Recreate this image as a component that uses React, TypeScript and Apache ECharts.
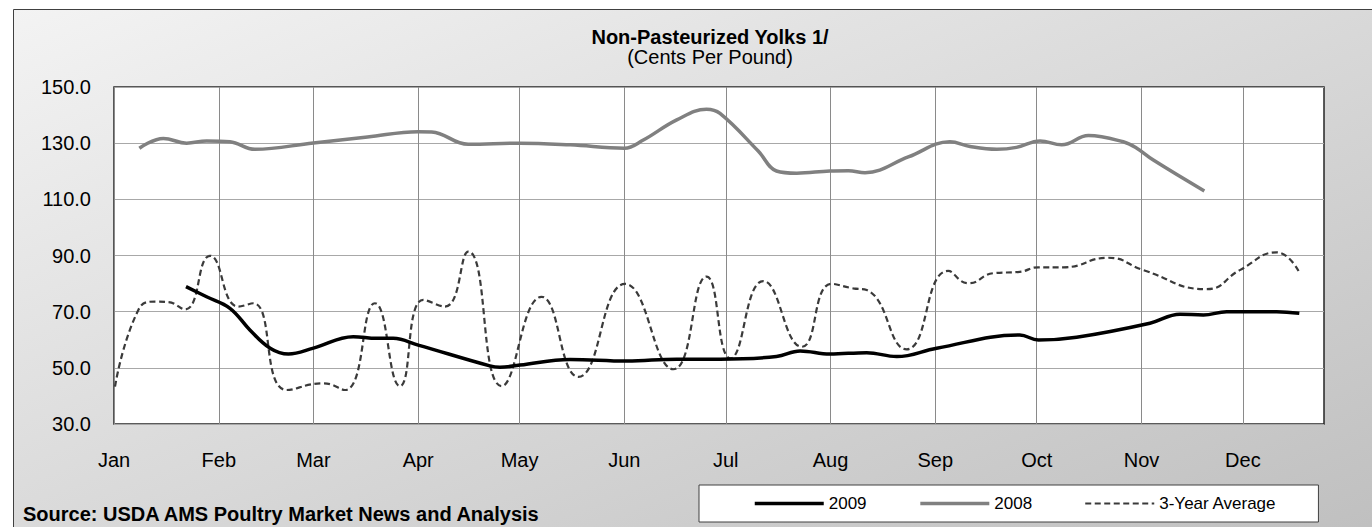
import React, { useEffect, useRef } from "react";
import * as echarts from "echarts";

// ---- data ----
const MONTH_LABELS = ["Jan", "Feb", "Mar", "Apr", "May", "Jun", "Jul", "Aug", "Sep", "Oct", "Nov", "Dec"];
const MONTH_START_DAYS = [0, 31, 59, 90, 120, 151, 181, 212, 243, 273, 304, 334];
const X_MAX_DAY = 358;
const Y_MIN = 30;
const Y_MAX = 150;
const Y_STEP = 20;

const SERIES_NAMES = ["2009", "2008", "3-Year Average"];

const DAYS_2009 = [21.3, 27.4, 34.3, 40.2, 46.2, 51.6, 59, 70.8, 77.7, 82.6, 90, 111.2, 114.2, 120.1, 134.9, 151.7, 166.5, 179.3, 196, 203, 211.8, 222.7, 231.6, 243.4, 268, 273.5, 284.8, 306.5, 315.4, 322.3, 329.2, 344, 350.7];
const PRICES_2009 = [78.9, 75.3, 71.2, 63.5, 57.0, 54.9, 57.0, 61.1, 60.5, 60.5, 58.1, 50.7, 50.2, 51.0, 53.0, 52.4, 53.1, 53.1, 54.0, 56.0, 54.9, 55.4, 54.0, 57.0, 61.7, 59.9, 60.9, 65.9, 69.1, 68.8, 70.0, 70.0, 69.4];

const DAYS_2008 = [7.5, 14.6, 21.5, 27.4, 34.3, 41.7, 59, 75, 90, 94, 104.8, 120, 135, 151, 156.6, 166.5, 175.3, 179.3, 190.6, 196, 202, 211.8, 217.3, 222.2, 235, 247.3, 253.3, 261.2, 267, 274, 280.4, 288.3, 298.6, 302.6, 307.5, 322.6];
const PRICES_2008 = [128.2, 131.7, 130.0, 130.8, 130.5, 127.8, 130.1, 132.2, 134.1, 134.0, 129.6, 130.0, 129.4, 128.2, 131.1, 138.3, 142.1, 140.6, 127.2, 120.1, 119.3, 120.1, 120.2, 119.5, 125.1, 130.5, 128.8, 127.8, 128.5, 130.8, 129.4, 132.7, 130.5, 128.2, 124.0, 113.0];

const DAYS_AVG = [0.3, 7.2, 12.6, 16.1, 21, 28.4, 36.8, 41.2, 51.1, 61.9, 68.3, 77.2, 84.6, 91.5, 97.9, 104.8, 114.7, 126.5, 137.4, 151.2, 165.5, 175.3, 182.4, 192.1, 203.5, 212.3, 218.7, 222.7, 234.5, 246.8, 252.8, 260.2, 268, 273.5, 280.9, 294.2, 304.5, 323.3, 333.1, 344, 350.7];
const PRICES_AVG = [43.3, 70.6, 73.6, 73.4, 70.8, 89.9, 71.8, 73.0, 42.1, 44.5, 42.1, 73.0, 43.5, 74.2, 71.8, 91.4, 43.5, 75.3, 46.8, 79.9, 49.5, 82.5, 53.4, 80.9, 57.5, 79.9, 78.3, 77.7, 56.6, 84.5, 80.1, 83.7, 84.2, 85.8, 85.8, 89.2, 84.8, 78.0, 84.8, 91.1, 84.0];

const TITLE = "Non-Pasteurized Yolks 1/";
const SUBTITLE = "(Cents Per Pound)";
const SOURCE = "Source: USDA AMS Poultry Market News and Analysis";

const FONT = "'Liberation Sans', Arial, Helvetica, sans-serif";

const zip = (xs: number[], ys: number[]) => xs.map((x, i) => [x, ys[i]]);

export default function App() {
  const ref = useRef<HTMLDivElement>(null);

  useEffect(() => {
    if (!ref.current) return;
    const chart = echarts.init(ref.current, null, { renderer: "svg" });

    const option: any = {
      animation: false,
      textStyle: { fontFamily: FONT },
      graphic: [
        {
          type: "rect",
          z: -100,
          silent: true,
          shape: { x: 13.5, y: 9.5, width: 1400, height: 560 },
          style: {
            fill: new echarts.graphic.LinearGradient(0, 0, 1, 1, [
              { offset: 0, color: "#f3f3f3" },
              { offset: 1, color: "#bdbdbd" },
            ]),
            stroke: "#404040",
            lineWidth: 1,
          },
        },
        {
          type: "text",
          left: 23,
          top: 504,
          silent: true,
          style: {
            text: SOURCE,
            font: `bold 20px ${FONT}`,
            fill: "#000",
          },
        },
      ],
      title: {
        text: TITLE,
        subtext: SUBTITLE,
        left: 710,
        top: 27,
        textAlign: "center",
        padding: 0,
        itemGap: 0,
        textStyle: { fontFamily: FONT, fontSize: 20, fontWeight: "bold", color: "#000" },
        subtextStyle: { fontFamily: FONT, fontSize: 20, color: "#000" },
      },
      legend: {
        data: SERIES_NAMES,
        left: 699,
        top: 485,
        padding: [10, 42, 10, 54],
        itemGap: 52,
        itemWidth: 69,
        itemHeight: 14,
        backgroundColor: "#ffffff",
        borderColor: "#404040",
        borderWidth: 1,
        borderRadius: 0,
        itemStyle: { opacity: 0, borderWidth: 0 },
        lineStyle: { width: "inherit" },
        textStyle: { fontFamily: FONT, fontSize: 17, color: "#000" },
      },
      grid: {
        left: 114,
        top: 87,
        right: 48,
        bottom: 103,
        show: true,
        backgroundColor: "#ffffff",
        borderColor: "#262626",
        borderWidth: 1.5,
        containLabel: false,
      },
      xAxis: {
        type: "value",
        min: 0,
        max: X_MAX_DAY,
        axisLine: { show: false },
        axisTick: { show: false, customValues: MONTH_START_DAYS },
        splitLine: { show: true, lineStyle: { color: "#8a8a8a", width: 1 } },
        axisLabel: {
          customValues: MONTH_START_DAYS,
          formatter: (v: number) => MONTH_LABELS[MONTH_START_DAYS.indexOf(Math.round(v))] ?? "",
          fontFamily: FONT,
          fontSize: 20,
          color: "#000",
          margin: 26,
        },
      },
      yAxis: {
        type: "value",
        min: Y_MIN,
        max: Y_MAX,
        interval: Y_STEP,
        axisLine: { show: false },
        axisTick: { show: false },
        splitLine: { show: true, lineStyle: { color: "#a8a8a8", width: 1 } },
        axisLabel: {
          formatter: (v: number) => v.toFixed(1),
          fontFamily: FONT,
          fontSize: 20,
          color: "#000",
          margin: 23,
        },
      },
      series: [
        {
          name: SERIES_NAMES[0],
          type: "line",
          data: zip(DAYS_2009, PRICES_2009),
          symbol: "none",
          smooth: 0.4,
          z: 5,
          lineStyle: { color: "#000000", width: 3.5 },
          itemStyle: { color: "#000000" },
        },
        {
          name: SERIES_NAMES[1],
          type: "line",
          data: zip(DAYS_2008, PRICES_2008),
          symbol: "none",
          smooth: 0.4,
          z: 4,
          lineStyle: { color: "#808080", width: 3.5 },
          itemStyle: { color: "#808080" },
        },
        {
          name: SERIES_NAMES[2],
          type: "line",
          data: zip(DAYS_AVG, PRICES_AVG),
          symbol: "none",
          smooth: 0.5,
          z: 3,
          lineStyle: { color: "#3a3a3a", width: 2.2, type: [6, 3.5] },
          itemStyle: { color: "#3a3a3a" },
        },
      ],
    };

    chart.setOption(option);
    return () => chart.dispose();
  }, []);

  return (
    <div
      ref={ref}
      style={{ position: "absolute", left: 0, top: 0, width: 1372, height: 527 }}
    />
  );
}
